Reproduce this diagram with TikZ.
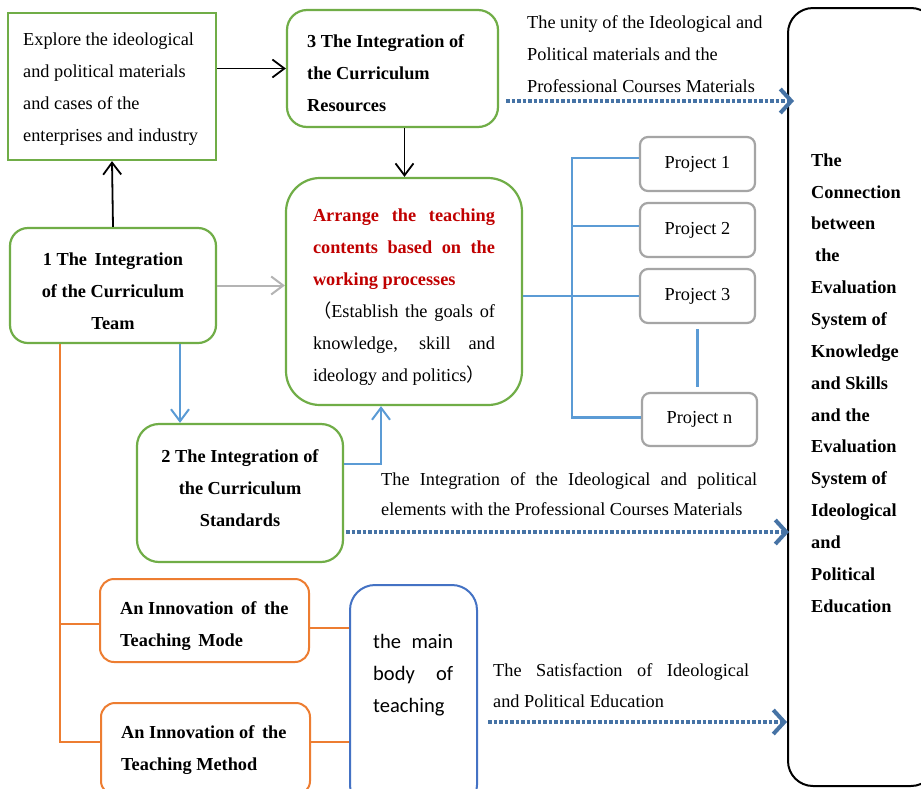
\documentclass[tikz,border=0pt]{standalone}
\usepackage{fontspec}
\setmainfont{Liberation Serif}
\newfontfamily\bodyfont{Carlito}
\newfontfamily\cjkfont{Noto Sans CJK SC}
\usetikzlibrary{arrows.meta,calc}
\definecolor{cgreen}{RGB}{112,173,71}
\definecolor{corange}{RGB}{237,125,49}
\definecolor{cblue}{RGB}{91,155,213}
\definecolor{cdblue}{RGB}{68,114,196}
\definecolor{cgray}{RGB}{165,165,165}
\definecolor{clgray}{RGB}{180,180,180}
\definecolor{cdot}{RGB}{70,115,165}
\definecolor{cred}{RGB}{192,0,0}
\begin{document}
\begin{tikzpicture}[x=1pt,y=-1pt,
  every node/.style={font=\fontsize{18.3}{32}\selectfont},
  gbox/.style={draw=cgreen,line width=2.2pt,rounded corners=18pt},
  obox/.style={draw=corange,line width=2pt,rounded corners=14pt},
  pbox/.style={draw=cgray,line width=2.2pt,rounded corners=8pt,minimum width=115pt,minimum height=54pt},
  bold/.style={font=\fontsize{18.3}{32}\selectfont\bfseries},
  blackarrow/.style={draw=black,line width=1.8pt,-{Straight Barb[length=12pt,width=18pt]}},
  grayarrow/.style={draw=clgray,line width=2pt,-{Straight Barb[length=12pt,width=18pt]}},
  bluearrow/.style={draw=cblue,line width=2pt,-{Straight Barb[length=12pt,width=18pt]}},
  blueline/.style={draw=cblue,line width=2.5pt},
  orangeline/.style={draw=corange,line width=2pt},
  dotarrow/.style={draw=cdot,line width=3.2pt,dash pattern=on 3.5pt off 2pt,-{Straight Barb[length=11pt,width=24pt,line width=4pt]}},
  lbl/.style={inner sep=0pt}]
\useasboundingbox[fill=white] (0,0) rectangle (921,788);

% boxes
\node[gbox,rounded corners=0pt,minimum width=208pt,minimum height=147pt] (explore) at (112,86.5) {};
\node[lbl,anchor=west,align=left] (exploretext) at (23,89)
  {Explore the ideological\\and political materials\\and cases of the\\enterprises and industry};
\node[gbox,rounded corners=20pt,minimum width=211pt,minimum height=117pt] (box3) at (392.5,68.5) {};
\node[lbl,anchor=west,align=left,bold] (box3text) at (307,73)
  {3 The Integration of\\the Curriculum\\Resources};
\node[gbox,rounded corners=34pt,minimum width=236pt,minimum height=227pt] (arrange) at (404,291.5) {};
\node[lbl,text width=182pt,align=justify] (arrangetext) at (404,297.5)
  {{\color{cred}\bfseries Arrange the teaching\linebreak contents based on the\linebreak working processes}\par
   {\cjkfont （}Establish the goals of\linebreak knowledge, skill and\linebreak ideology and politics{\cjkfont ）}};
\node[gbox,minimum width=206pt,minimum height=115pt] (team) at (113,285.5) {};
\node[lbl,align=center,bold] (teamtext) at (113,291)
  {1 The\, Integration\\of the Curriculum\\Team};
\node[gbox,rounded corners=22pt,minimum width=206pt,minimum height=138pt] (standards) at (240,493) {};
\node[lbl,align=center,bold] (standardstext) at (240,488)
  {2 The Integration of\\the Curriculum\\Standards};
\node[obox,minimum width=209pt,minimum height=83pt] (mode) at (204.5,620.5) {};
\node[lbl,anchor=west,align=left,bold] (modetext) at (120,626)
  {An Innovation\, of\, the\\Teaching\, Mode};
\node[obox,minimum width=209pt,minimum height=92pt] (method) at (205.5,749) {};
\node[lbl,anchor=west,align=left,bold] (methodtext) at (121,750)
  {An Innovation of\, the\\Teaching Method};
\node[draw=cdblue,line width=2pt,rounded corners=25pt,minimum width=127pt,minimum height=225pt] (mainbody) at (413.5,697.5) {};
\node[lbl,anchor=west,text width=80pt,align=justify,font=\fontsize{20.5}{32}\bodyfont] (mbtext) at (373,675)
  {the main\linebreak body of\linebreak teaching};
\node[draw=black,line width=2pt,rounded corners=25pt,minimum width=148pt,minimum height=778pt] (eval) at (862,397) {};
\node[lbl,anchor=west,align=left,font=\fontsize{18.3}{31.86}\selectfont\bfseries] (evaltext) at (811,383)
  {The\\Connection\\between\\\hspace*{4pt}the\\Evaluation\\System of\\Knowledge\\and Skills\\and the\\Evaluation\\System of\\Ideological\\and\\Political\\Education};

% projects
\node[pbox] (p1) at (697.5,164) {Project 1};
\node[pbox] (p2) at (697.5,230) {Project 2};
\node[pbox] (p3) at (697.5,296) {Project 3};
\node[pbox,minimum height=53pt] (pn) at (699.5,419.5) {Project n};

% labels
\node[lbl,anchor=west,align=left] (lab1) at (527,54)
  {The unity of the Ideological and\\Political materials and the\\Professional Courses Materials};
\node[lbl,anchor=west,text width=376pt,align=justify,font=\fontsize{18.3}{30}\selectfont] (lab2) at (381,494)
  {The Integration of the Ideological and political\linebreak elements with the Professional Courses Materials};
\node[lbl,anchor=west,text width=256pt,align=justify,font=\fontsize{18.3}{31}\selectfont] (lab3) at (493,686)
  {The Satisfaction of Ideological\linebreak and Political Education};

% black arrows
\draw[blackarrow] ([yshift=18pt]explore.east) -- ([yshift=18pt]explore.east -| box3.west);
\draw[blackarrow] ([xshift=12pt]box3.south) -- ([xshift=12pt]box3.south |- arrange.north);
\draw[blackarrow] (team.north) -- (explore.south);
\draw[grayarrow] (team.east) -- (team.east -| arrange.west);

% blue connectors
\draw[bluearrow] ([xshift=67pt]team.south) -- ([xshift=67pt]team.south |- standards.north);
\draw[bluearrow] ([yshift=29pt]standards.east) -| ([xshift=-23pt]arrange.south);
\coordinate (tk) at (572,0);
\draw[blueline] ([yshift=6pt]p1.west) -- ([yshift=6pt]p1.west -| tk) -- ([yshift=2pt]pn.west -| tk) -- ([yshift=2pt]pn.west);
\draw[blueline] ([yshift=4pt]p2.west) -- ([yshift=4pt]p2.west -| tk);
\draw[blueline] (arrange.east |- p3.west) -- (p3.west);
\draw[blueline] ([yshift=-5pt]p3.south) -- ([yshift=5pt]pn.north -| p3.south);

% orange connectors
\coordinate (ot) at (60,0);
\draw[orangeline] ([xshift=-53pt]team.south) -- ([xshift=-53pt,yshift=7pt]team.south |- method.west) -- ([yshift=7pt]method.west);
\draw[orangeline] ([yshift=-3.5pt]mode.west -| ot) -- ([yshift=-3.5pt]mode.west);
\draw[orangeline] ([yshift=-7pt]mode.east) -- ([yshift=-7pt]mode.east -| mainbody.west);
\draw[orangeline] ([yshift=7pt]method.east) -- ([yshift=7pt]method.east -| mainbody.west);

% dotted arrows
\draw[dotarrow] ([xshift=7pt,yshift=-32.5pt]box3.east) -- ([xshift=7pt,yshift=-32.5pt]box3.east -| eval.west);
\draw[dotarrow] ([xshift=2pt,yshift=-39pt]standards.east) -- ([xshift=2pt,yshift=-39pt]standards.east -| eval.west);
\draw[dotarrow] ([xshift=10pt,yshift=-24.5pt]mainbody.east) -- ([yshift=-24.5pt]mainbody.east -| eval.west);
\end{tikzpicture}
\end{document}
